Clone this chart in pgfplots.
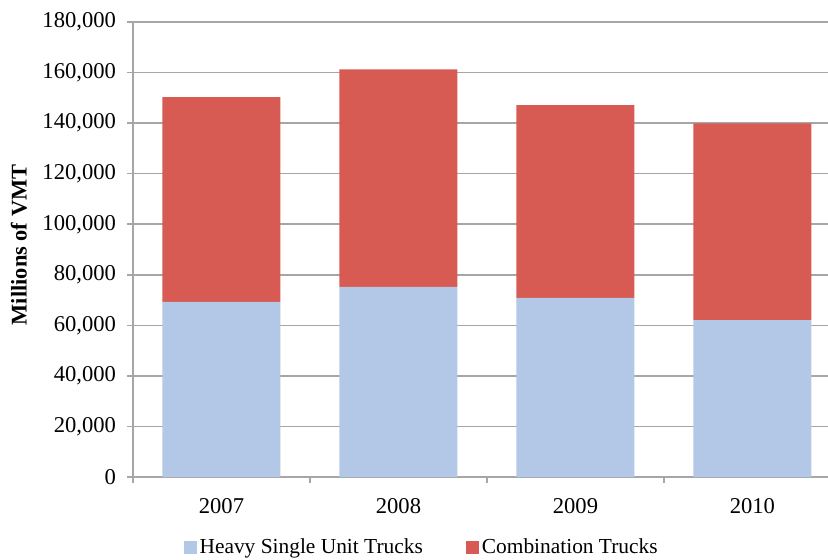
\documentclass[border=0pt]{standalone}
\usepackage{pgfplots}
\pgfplotsset{compat=1.18}
\usepackage{fontspec}
\setmainfont{Liberation Serif}
\definecolor{hsut}{RGB}{179,199,230}
\definecolor{comb}{RGB}{215,91,83}
\definecolor{axgray}{RGB}{166,166,166}
\begin{document}
\begin{tikzpicture}
\useasboundingbox (0,0) rectangle (414pt,279.5pt);
\begin{axis}[
  at={(66.5pt,41pt)}, anchor=south west,
  scale only axis, width=347.5pt, height=227.5pt,
  clip=false,
  ybar stacked, bar width=59pt,
  xmin=-0.5, xmax=3.427,
  ymin=0, ymax=180000,
  scaled y ticks=false,
  ytick={0,20000,40000,60000,80000,100000,120000,140000,160000,180000},
  yticklabels={0,{20,000},{40,000},{60,000},{80,000},{100,000},{120,000},{140,000},{160,000},{180,000}},
  xtick={-0.5,0.5,1.5,2.5},
  xticklabels={,,,},
  extra x ticks={0,1,2,3},
  extra x tick labels={2007,2008,2009,2010},
  extra x tick style={major tick length=0pt},
  axis x line*=bottom, axis y line*=left,
  axis line style={axgray, line width=0.8pt},
  tick style={axgray, line width=0.8pt},
  major tick length=3pt,
  tick align=outside,
  ymajorgrids, grid style={axgray, line width=0.8pt},
  tick label style={font=\fontsize{11.3}{13}\selectfont, text=black},
  yticklabel style={xshift=-2pt},
  xticklabel style={yshift=-7pt},
  ylabel={Millions of VMT},
  every axis y label/.style={at={(rel axis cs:-0.164,0.51)}, rotate=90, anchor=center, font=\fontsize{11.2}{13}\selectfont\bfseries},
  legend style={at={(rel axis cs:0.416,0)}, anchor=center, yshift=-35.3pt, draw=none, fill=none,
    font=\fontsize{10.7}{12}\selectfont, legend columns=2,
    /tikz/every even column/.append style={column sep=20pt},
    inner sep=0pt, nodes={inner sep=1.5pt}},
  legend image code/.code={\fill[#1] (0pt,-3.25pt) rectangle (6.5pt,3.25pt);},
]
\addplot[fill=hsut, draw=none] coordinates {(0,69300) (1,75200) (2,70900) (3,62100)};
\addplot[fill=comb, draw=none] coordinates {(0,81000) (1,86100) (2,76200) (3,77800)};
\legend{Heavy Single Unit Trucks, Combination Trucks}
\end{axis}
\end{tikzpicture}
\end{document}
